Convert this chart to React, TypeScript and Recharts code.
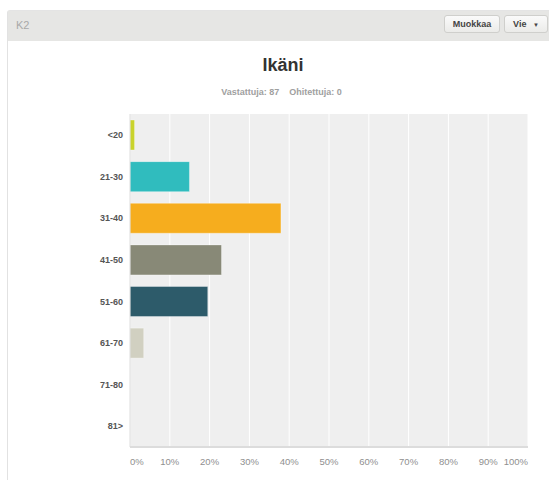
import React from 'react';
import { BarChart, Bar, XAxis, YAxis, CartesianGrid, Cell } from 'recharts';

const ageGroups = ['<20', '21-30', '31-40', '41-50', '51-60', '61-70', '71-80', '81>'];
const shares = [1.15, 14.94, 37.93, 22.99, 19.54, 3.45, 0, 0];
const barColors = ['#c9d32c', '#30bcbe', '#f6ad1e', '#888977', '#2d5b6a', '#d1d0c1', '#cccccc', '#cccccc'];
const percentTicks = [0, 10, 20, 30, 40, 50, 60, 70, 80, 90, 100];

const data = ageGroups.map((group, i) => ({ group, share: shares[i] }));

const font = 'Arial, "Liberation Sans", Helvetica, sans-serif';

const PercentTick = (props: any) => {
  const { x, y, payload, index } = props;
  const last = percentTicks.length - 1;
  const anchor = index === 0 ? 'start' : index === last ? 'end' : 'middle';
  return (
    <text x={x} y={y} dy="0.71em" textAnchor={anchor} fill="#8f8f8f" fontSize={9.5} fontFamily={font}>
      {`${payload.value}%`}
    </text>
  );
};

const Btn = ({ left, width, children }: { left: number; width: number; children: React.ReactNode }) => (
  <div
    style={{
      position: 'absolute',
      left,
      top: 15,
      width,
      height: 18,
      boxSizing: 'border-box',
      border: '1px solid #cfcfcc',
      borderRadius: 3,
      background: 'linear-gradient(#fafafa, #ebebe9)',
      fontSize: 9,
      fontWeight: 'bold',
      color: '#444',
      textAlign: 'center',
      lineHeight: '16px',
    }}
  >
    {children}
  </div>
);

export default function App() {
  return (
    <div style={{ position: 'absolute', left: 0, top: 0, width: 549, height: 480, background: '#fff', overflow: 'hidden', fontFamily: font }}>
      <div style={{ position: 'absolute', left: 7, top: 10, width: 560, height: 480, borderLeft: '1px solid #e2e2e2', borderTop: '1px solid #e4e4e4', borderRadius: '3px 0 0 0' }} />
      <div style={{ position: 'absolute', left: 8, top: 11, width: 541, height: 30, background: '#e6e6e4' }} />
      <div style={{ position: 'absolute', left: 16, top: 19, fontSize: 11, color: '#a9a9a9' }}>K2</div>
      <Btn left={444} width={56}>Muokkaa</Btn>
      <Btn left={504} width={44}>
        Vie <span style={{ fontSize: 6, marginLeft: 4 }}>▼</span>
      </Btn>
      <div style={{ position: 'absolute', left: 0, width: 566, top: 55, textAlign: 'center', fontSize: 18, fontWeight: 'bold', color: '#333' }}>
        Ikäni
      </div>
      <div style={{ position: 'absolute', left: 0, width: 563, top: 87, textAlign: 'center', fontSize: 9, fontWeight: 'bold', color: '#a0a0a0' }}>
        Vastattuja: 87&nbsp;&nbsp;&nbsp;&nbsp;Ohitettuja: 0
      </div>
      <div style={{ position: 'absolute', left: 0, top: 0 }}>
        <BarChart
          width={549}
          height={480}
          data={data}
          layout="vertical"
          margin={{ top: 114, right: 21, left: 70, bottom: 3 }}
          barSize={30}
        >
          <CartesianGrid horizontal={false} stroke="#ffffff" strokeWidth={1} fill="#efefef" />
          <XAxis
            type="number"
            domain={[0, 100]}
            ticks={percentTicks}
            interval={0}
            height={30}
            tickLine={false}
            tickSize={7}
            tickMargin={4}
            axisLine={{ stroke: '#dcdcdc', strokeWidth: 2 }}
            tick={<PercentTick />}
          />
          <YAxis
            type="category"
            dataKey="group"
            width={60}
            tickLine={false}
            tickSize={4}
            tickMargin={3}
            axisLine={{ stroke: '#dcdcdc', strokeWidth: 1 }}
            tick={{ fill: '#555', fontSize: 9, fontWeight: 'bold', fontFamily: font }}
          />
          <Bar dataKey="share" isAnimationActive={false} stroke="rgba(255,255,255,0.35)" strokeWidth={1}>
            {data.map((d, i) => (
              <Cell key={d.group} fill={barColors[i]} />
            ))}
          </Bar>
        </BarChart>
      </div>
    </div>
  );
}
